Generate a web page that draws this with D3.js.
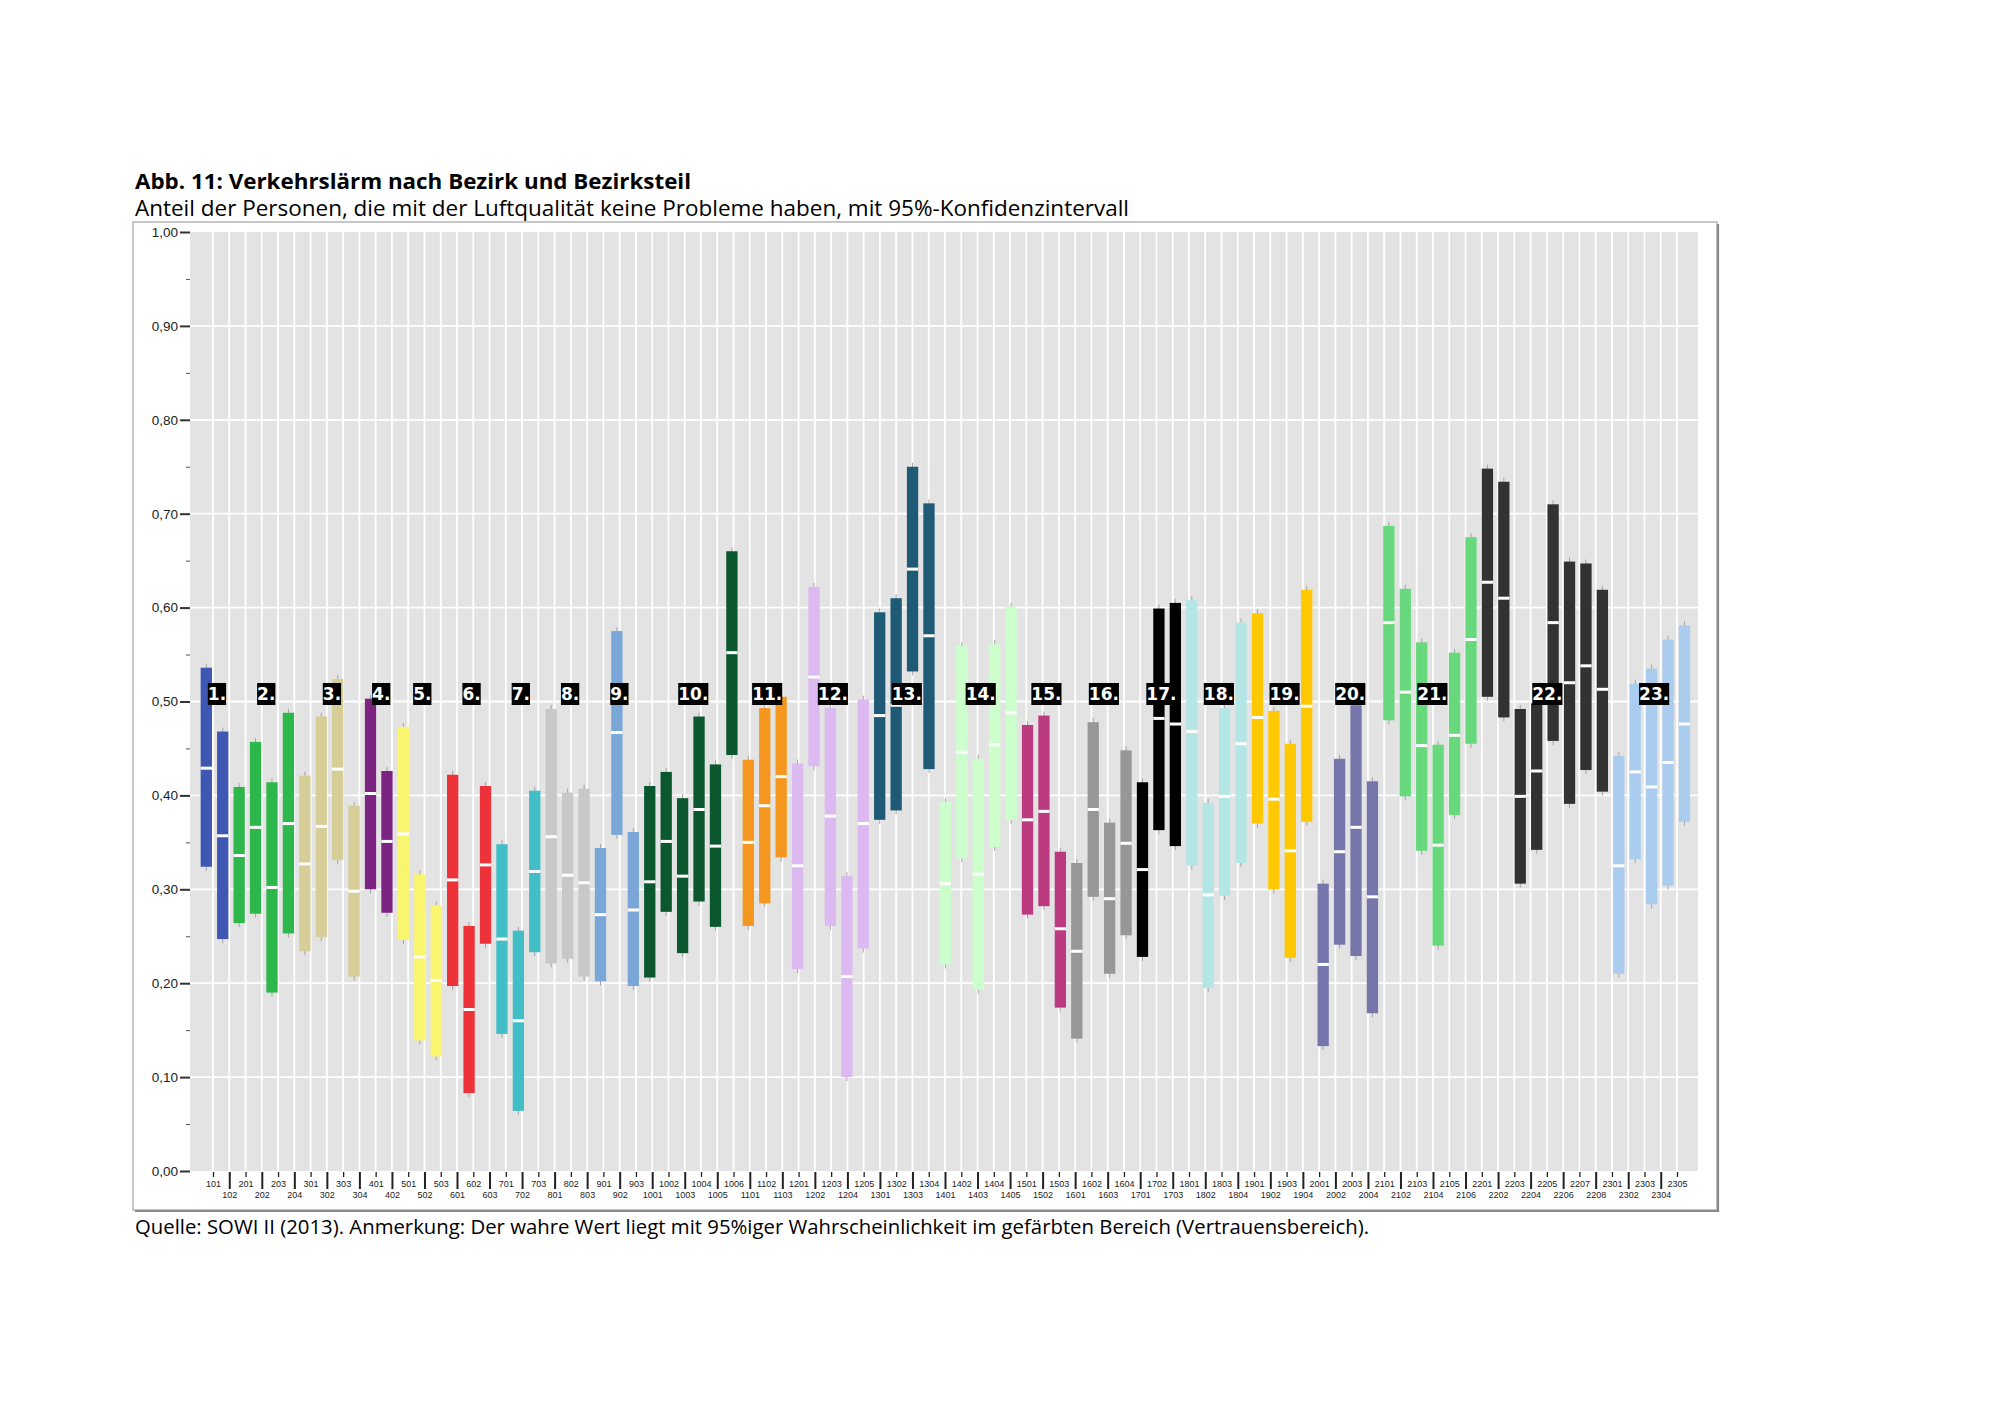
<!DOCTYPE html>
<html>
<head>
<meta charset="utf-8">
<script src="https://cdn.jsdelivr.net/npm/d3@7"></script>
<style>
  body { margin: 0; background: #ffffff; }
  svg { display: block; }
</style>
</head>
<body>
<svg id="chart" width="2000" height="1414"></svg>
<script>
// ---------------- DATA ----------------
const categories = [
  "101","102",
  "201","202","203","204",
  "301","302","303","304",
  "401","402",
  "501","502","503",
  "601","602","603",
  "701","702","703",
  "801","802","803",
  "901","902","903",
  "1001","1002","1003","1004","1005","1006",
  "1101","1102","1103",
  "1201","1202","1203","1204","1205",
  "1301","1302","1303","1304",
  "1401","1402","1403","1404","1405",
  "1501","1502","1503",
  "1601","1602","1603","1604",
  "1701","1702","1703",
  "1801","1802","1803","1804",
  "1901","1902","1903","1904",
  "2001","2002","2003","2004",
  "2101","2102","2103","2104","2105","2106",
  "2201","2202","2203","2204","2205","2206","2207","2208",
  "2301","2302","2303","2304","2305"
];

const lowerCI = [
  0.324, 0.247,
  0.264, 0.274, 0.190, 0.253,
  0.234, 0.249, 0.331, 0.207,
  0.300, 0.275,
  0.246, 0.139, 0.122,
  0.197, 0.083, 0.242,
  0.146, 0.064, 0.233,
  0.221, 0.226, 0.207,
  0.202, 0.358, 0.197,
  0.206, 0.276, 0.232, 0.287, 0.260, 0.443,
  0.261, 0.285, 0.334,
  0.215, 0.431, 0.261, 0.100, 0.237,
  0.374, 0.384, 0.532, 0.428,
  0.220, 0.333, 0.193, 0.345, 0.374,
  0.273, 0.282, 0.174,
  0.141, 0.292, 0.210, 0.251,
  0.228, 0.363, 0.346,
  0.325, 0.195, 0.293, 0.328,
  0.370, 0.300, 0.227, 0.372,
  0.133, 0.241, 0.229, 0.168,
  0.480, 0.399, 0.341, 0.240, 0.379, 0.455,
  0.505, 0.483, 0.306, 0.342, 0.458, 0.391, 0.427, 0.404,
  0.210, 0.332, 0.284, 0.304, 0.372
];

const meanValues = [
  0.429, 0.357,
  0.336, 0.366, 0.302, 0.370,
  0.327, 0.367, 0.428, 0.298,
  0.402, 0.351,
  0.359, 0.228, 0.203,
  0.310, 0.172, 0.326,
  0.247, 0.160, 0.319,
  0.356, 0.315, 0.307,
  0.273, 0.467, 0.278,
  0.308, 0.351, 0.314, 0.385, 0.346, 0.552,
  0.350, 0.389, 0.420,
  0.325, 0.526, 0.378, 0.207, 0.370,
  0.485, 0.496, 0.641, 0.570,
  0.306, 0.446, 0.316, 0.454, 0.488,
  0.374, 0.383, 0.258,
  0.234, 0.385, 0.290, 0.349,
  0.321, 0.482, 0.476,
  0.468, 0.294, 0.399, 0.455,
  0.483, 0.396, 0.341, 0.495,
  0.220, 0.340, 0.366, 0.292,
  0.584, 0.510, 0.453, 0.347, 0.464, 0.566,
  0.627, 0.610, 0.399, 0.426, 0.584, 0.520, 0.538, 0.513,
  0.325, 0.425, 0.409, 0.435, 0.476
];

const upperCI = [
  0.536, 0.468,
  0.409, 0.457, 0.414, 0.488,
  0.421, 0.484, 0.524, 0.389,
  0.503, 0.426,
  0.473, 0.316, 0.283,
  0.422, 0.261, 0.410,
  0.348, 0.256, 0.405,
  0.492, 0.403, 0.407,
  0.344, 0.575, 0.361,
  0.410, 0.425, 0.397, 0.484, 0.433, 0.660,
  0.438, 0.493, 0.505,
  0.434, 0.622, 0.493, 0.314, 0.502,
  0.595, 0.610, 0.750, 0.711,
  0.393, 0.559, 0.439, 0.561, 0.601,
  0.475, 0.485, 0.340,
  0.328, 0.478, 0.371, 0.448,
  0.414, 0.599, 0.605,
  0.608, 0.392, 0.493, 0.584,
  0.594, 0.490, 0.455, 0.619,
  0.306, 0.439, 0.496, 0.415,
  0.687, 0.620, 0.563, 0.454, 0.552, 0.675,
  0.748, 0.734, 0.492, 0.498, 0.710, 0.649, 0.647, 0.619,
  0.442, 0.519, 0.535, 0.566, 0.581
];

const districtLabels = ["1.","2.","3.","4.","5.","6.","7.","8.","9.","10.","11.","12.",
  "13.","14.","15.","16.","17.","18.","19.","20.","21.","22.","23."];

const districtColors = [
  "#3d57b3", "#2eb84b", "#d6cd97", "#7b2482", "#faf56e", "#ee3239",
  "#42bec6", "#c8c8c8", "#7aa7d7", "#0b572e", "#f5961e", "#dcb9f0",
  "#1e5a76", "#ccffcc", "#bc3b80", "#979797", "#000000", "#b4e6e6",
  "#ffc800", "#7676aa", "#68d87c", "#323232", "#aacdef"
];

const yTickValues = [0, 0.1, 0.2, 0.3, 0.4, 0.5, 0.6, 0.7, 0.8, 0.9, 1.0];
const yMinorValues = [0.05, 0.15, 0.25, 0.35, 0.45, 0.55, 0.65, 0.75, 0.85, 0.95];
const labelLevel = 0.508;

const titleText = "Abb. 11: Verkehrslärm nach Bezirk und Bezirksteil";
const subtitleText = "Anteil der Personen, die mit der Luftqualität keine Probleme haben, mit 95%-Konfidenzintervall";
const footerText = "Quelle: SOWI II (2013). Anmerkung: Der wahre Wert liegt mit 95%iger Wahrscheinlichkeit im gefärbten Bereich (Vertrauensbereich).";

// ---------------- LAYOUT ----------------
const svg = d3.select("#chart");
const plot = { left: 190, right: 1698, top: 232, bottom: 1171 };
const frame = { left: 133, top: 222, right: 1717, bottom: 1210 };

const y = d3.scaleLinear().domain([0, 1]).range([plot.bottom, plot.top]);
const xTick = d3.scalePoint().domain(categories).range([plot.left + 23, plot.right - 21]);
const xBar = d3.scalePoint().domain(categories).range([plot.left + 16.3, plot.right - 13.5]);
const barW = 11.3;
const districtOf = c => Math.floor(+c / 100);
const colorOf = c => districtColors[districtOf(c) - 1];

svg.append("rect").attr("width", 2000).attr("height", 1414).attr("fill", "#ffffff");

// Titles
svg.append("text")
  .attr("x", 135).attr("y", 189)
  .attr("font-family", "'Open Sans', 'Noto Sans', sans-serif")
  .attr("font-weight", "bold").attr("font-size", 22)
  .attr("textLength", 556).attr("lengthAdjust", "spacingAndGlyphs")
  .attr("fill", "#000").text(titleText);

svg.append("text")
  .attr("x", 135).attr("y", 216)
  .attr("font-family", "'Open Sans', 'Noto Sans', sans-serif")
  .attr("font-size", 21)
  .attr("textLength", 994).attr("lengthAdjust", "spacingAndGlyphs")
  .attr("fill", "#000").text(subtitleText);

svg.append("text")
  .attr("x", 135).attr("y", 1234)
  .attr("font-family", "'Open Sans', 'Noto Sans', sans-serif")
  .attr("font-size", 20.5)
  .attr("textLength", 1234).attr("lengthAdjust", "spacingAndGlyphs")
  .attr("fill", "#000").text(footerText);

// Frame
svg.append("rect")
  .attr("x", frame.left).attr("y", frame.top)
  .attr("width", frame.right - frame.left).attr("height", frame.bottom - frame.top)
  .attr("fill", "#ffffff").attr("stroke", "#a3a3a3").attr("stroke-width", 1.2);
svg.append("path")
  .attr("d", `M${frame.right + 1},${frame.top + 2} V${frame.bottom + 1} H${frame.left + 2}`)
  .attr("fill", "none").attr("stroke", "#8a8a8a").attr("stroke-width", 2.2);

// Plot background
svg.append("rect")
  .attr("x", plot.left).attr("y", plot.top)
  .attr("width", plot.right - plot.left).attr("height", plot.bottom - plot.top)
  .attr("fill", "#e3e3e3");

// Horizontal gridlines
svg.append("g").selectAll("line").data(yTickValues.filter(v => v > 0 && v < 1)).join("line")
  .attr("x1", plot.left).attr("x2", plot.right)
  .attr("y1", d => y(d)).attr("y2", d => y(d))
  .attr("stroke", "#ffffff").attr("stroke-width", 1.8);

// Vertical gridlines at category ticks
svg.append("g").selectAll("line").data(categories).join("line")
  .attr("x1", d => xTick(d)).attr("x2", d => xTick(d))
  .attr("y1", plot.top).attr("y2", plot.bottom)
  .attr("stroke", "#ffffff").attr("stroke-width", 1.8);

// Y axis
const yAxis = d3.axisLeft(y).tickValues(yTickValues).tickSize(10).tickPadding(2)
  .tickFormat(d => d3.format(".2f")(d).replace(".", ","));
const gy = svg.append("g").attr("transform", `translate(${plot.left},0)`).call(yAxis);
gy.select(".domain").remove();
gy.selectAll(".tick line").attr("stroke", "#333").attr("stroke-width", 2);
gy.selectAll(".tick text")
  .attr("font-family", "'Liberation Sans Narrow', 'Liberation Sans', Arial, sans-serif")
  .attr("font-size", 13.5).attr("fill", "#222");

const yMinor = d3.axisLeft(y).tickValues(yMinorValues).tickSize(4).tickFormat("");
const gym = svg.append("g").attr("transform", `translate(${plot.left},0)`).call(yMinor);
gym.select(".domain").remove();
gym.selectAll(".tick line").attr("stroke", "#555").attr("stroke-width", 1);

// X axis (staggered labels)
const xAxis = d3.axisBottom(xTick).tickSize(5).tickPadding(2);
const gx = svg.append("g").attr("transform", `translate(0,${plot.bottom + 1})`).call(xAxis);
gx.select(".domain").remove();
gx.selectAll(".tick line")
  .attr("stroke", "#222")
  .attr("stroke-width", (d, i) => i % 2 ? 2 : 1.3)
  .attr("y2", (d, i) => i % 2 ? 17 : 5);
gx.selectAll(".tick text")
  .attr("font-family", "'Liberation Sans', Arial, sans-serif")
  .attr("font-size", 9).attr("fill", "#222")
  .attr("dy", null)
  .attr("y", (d, i) => i % 2 ? 26 : 15);

// Bars
const rows = categories.map((c, i) => ({ c, lo: lowerCI[i], m: meanValues[i], hi: upperCI[i] }));

const gBars = svg.append("g");
gBars.selectAll("line.whisker").data(rows).join("line")
  .attr("class", "whisker")
  .attr("x1", d => xBar(d.c)).attr("x2", d => xBar(d.c))
  .attr("y1", d => y(d.hi) - 4).attr("y2", d => y(d.lo) + 4)
  .attr("stroke", "#a5a5a5").attr("stroke-width", 1);

gBars.selectAll("rect.ci").data(rows).join("rect")
  .attr("class", "ci")
  .attr("x", d => xBar(d.c) - barW / 2)
  .attr("width", barW)
  .attr("y", d => y(d.hi))
  .attr("height", d => y(d.lo) - y(d.hi))
  .attr("fill", d => colorOf(d.c));

gBars.selectAll("rect.mean").data(rows).join("rect")
  .attr("class", "mean")
  .attr("x", d => xBar(d.c) - barW / 2)
  .attr("width", barW)
  .attr("y", d => y(d.m) - 1.5)
  .attr("height", 3)
  .attr("fill", "#ffffff");

// District labels
const groups = districtLabels.map((lab, k) => {
  const cats = categories.filter(c => districtOf(c) === k + 1);
  const cx = d3.mean(cats, c => xBar(c)) + 0.15 * xBar.step();
  return { lab, cx };
});
const gLab = svg.append("g");
groups.forEach(g => {
  const t = gLab.append("text")
    .attr("x", g.cx).attr("y", y(labelLevel) + 6.2)
    .attr("text-anchor", "middle")
    .attr("font-family", "'DejaVu Sans', Verdana, sans-serif")
    .attr("font-weight", "bold").attr("font-size", 17)
    .attr("fill", "#ffffff").text(g.lab);
  const bb = t.node().getBBox();
  gLab.insert("rect", () => t.node())
    .attr("x", g.cx - bb.width / 2).attr("width", bb.width)
    .attr("y", y(labelLevel) - 11).attr("height", 22)
    .attr("fill", "#000000");
});
</script>
</body>
</html>
